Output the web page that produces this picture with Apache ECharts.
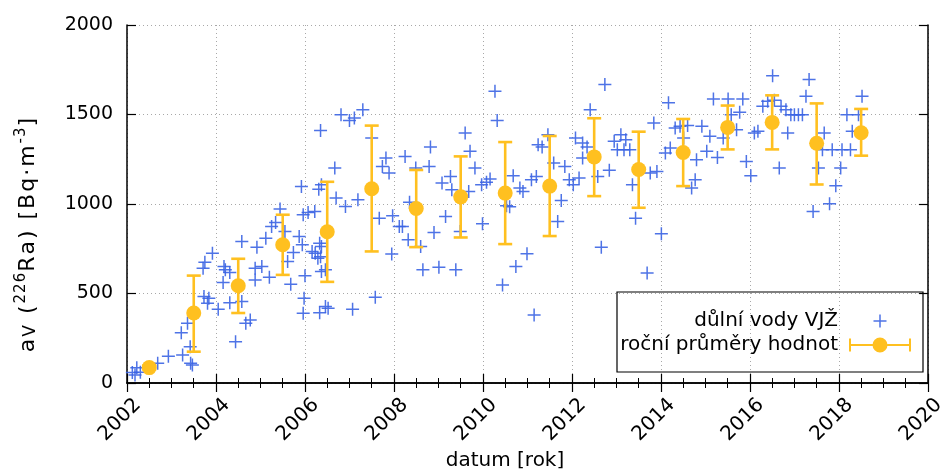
<!DOCTYPE html>
<html><head><meta charset="utf-8">
<script src="https://cdn.jsdelivr.net/npm/echarts@6/dist/echarts.min.js"></script>
<style>html,body{margin:0;padding:0;background:#fff}#c{width:948px;height:472px}</style>
</head><body><div id="c"></div>
<script>
// ---- data ----
const sampleYears = [
 2002.12,2002.22,2002.30,2002.18,2002.69,2002.93,2003.25,2003.42,2003.43,2003.47,
 2003.22,2003.36,2003.73,2003.84,2003.81,2003.71,2003.75,2003.92,2004.05,2004.18,
 2004.21,2004.31,2004.16,2004.31,2004.44,2004.58,2004.58,2004.67,2004.77,2004.92,
 2004.88,2005.03,2004.88,2005.20,2005.12,2005.25,2005.34,2005.44,2005.55,2005.61,
 2005.68,2005.74,2005.87,2005.94,2005.92,2006.00,2005.98,2005.96,2005.96,2006.07,
 2006.22,2006.35,2006.31,2006.37,2006.16,2006.23,2006.33,2006.37,2006.29,2006.35,
 2006.37,2006.46,2006.33,2006.46,2006.52,2006.67,2006.70,2006.91,2007.07,2006.81,
 2007.00,2007.11,2007.19,2007.30,2007.50,2007.82,2007.74,2007.89,2007.67,2007.97,
 2008.12,2008.19,2008.32,2008.60,2007.95,2008.25,2008.49,2008.82,2008.79,2008.90,
 2008.65,2009.01,2009.39,2009.16,2009.08,2009.27,2009.30,2009.60,2009.71,2007.58,
 2008.35,2009.49,2010.27,2010.32,2009.82,2009.97,2010.08,2010.16,2009.68,2009.99,
 2010.53,2010.60,2010.68,2010.83,2010.90,2011.09,2011.20,2010.99,2010.74,2010.44,
 2011.15,2011.24,2011.33,2011.46,2011.59,2011.84,2011.76,2011.68,2011.94,2012.03,
 2012.16,2012.08,2012.24,2012.74,2012.41,2012.24,2012.34,2012.58,2012.84,2012.66,
 2013.10,2012.95,2013.21,2013.02,2013.17,2013.30,2013.36,2013.43,2013.69,2013.76,
 2013.91,2013.84,2014.17,2014.01,2014.10,2014.21,2014.32,2014.43,2014.60,2014.51,
 2014.77,2014.69,2014.80,2015.03,2014.92,2015.10,2015.27,2015.18,2015.51,2015.84,
 2015.58,2015.77,2015.40,2015.70,2015.92,2016.02,2016.10,2016.18,2016.29,2016.40,
 2016.55,2016.51,2016.70,2016.81,2016.85,2016.66,2016.92,2017.00,2017.09,2017.18,
 2017.26,2017.33,2017.42,2017.67,2017.63,2017.85,2018.07,2018.26,2017.54,2018.04,
 2017.93,2017.79,2018.18,2018.44,2018.52,2018.30
];
const sampleValues = [
 58,85,60,45,110,150,157,203,110,100,
 281,334,483,474,446,641,675,725,412,651,
 632,617,561,449,231,791,455,334,352,759,
 641,651,576,591,809,874,897,972,846,679,
 552,729,818,772,1098,599,474,390,940,953,
 958,1410,1083,1108,734,725,781,762,697,706,
 623,632,393,427,418,1201,1033,986,412,1499,
 1467,1481,1024,1527,1369,1257,1210,1173,921,934,
 874,874,800,762,720,1266,1201,1318,1210,841,
 632,647,632,930,1117,1154,1080,1397,1294,479,
 1010,846,1630,1467,1201,1108,1121,1139,1070,890,
 990,985,1158,1089,1070,1136,1154,722,651,548,
 380,1331,1318,1387,1229,1210,1020,902,1136,1108,
 1145,1369,1257,1667,1527,1341,1318,1154,1188,759,
 1387,1350,1359,1303,1303,1303,1108,921,614,1173,
 1182,1453,1565,834,1285,1313,1425,1434,1438,1369,
 1136,1089,1247,1294,1434,1378,1260,1587,1587,1587,
 1499,1512,1369,1415,1238,1158,1397,1406,1546,1574,
 1579,1717,1546,1527,1397,1201,1499,1499,1499,1499,
 1602,1695,958,1397,1303,1303,1303,1303,1201,1201,
 1102,1001,1499,1499,1602,1406
];
const meanYears  = [2002.5,2003.5,2004.5,2005.5,2006.5,2007.5,2008.5,2009.5,2010.5,2011.5,2012.5,2013.5,2014.5,2015.5,2016.5,2017.5,2018.5];
const meanValues = [86,391,543,772,845,1085,975,1040,1061,1100,1263,1193,1288,1428,1456,1339,1398];
const meanLow    = [76,175,391,604,565,735,759,813,776,821,1044,979,1100,1305,1305,1109,1270];
const meanHigh   = [98,600,694,940,1124,1438,1190,1266,1346,1380,1479,1404,1475,1550,1607,1562,1531];
const xRange = [2002, 2020], xStep = 2;
const yRange = [0, 2000], yStep = 500;
const seriesNames = ['důlní vody VJŽ', 'roční průměry hodnot'];
const xTitle = 'datum [rok]';
// y title pieces: [style, text]  ->  a_V (^226 Ra) [Bq·m^-3]
const yTitleParts = [['n', 'a'], ['sub', 'V'], ['n', ' ('], ['sup', '226'], ['n', 'Ra) [Bq·m'], ['sup', '-3'], ['n', ']']];

// ---- styling ----
const FONT = 'DejaVu Sans';
const BLUE = '#3b64e3';
const GOLD = '#ffc020';
const PLUS = 'path://M5.75,0H7.25V5.75H13V7.25H7.25V13H5.75V7.25H0V5.75H5.75Z';
const PLUS_LEG = 'path://M0,0h0.01v0.01h-0.01z M62,14h-0.01v-0.01h0.01z M30.25,0.5H31.75V6.25H37.5V7.75H31.75V13.5H30.25V7.75H24.5V6.25H30.25Z';
const ERR_LEG = 'path://M0,1.5H2V14.5H0Z M60,1.5H62V14.5H60Z M2,7H23.6V9H2Z M38.4,7H60V9H38.4Z M23.5,8A7.5,7.5 0 1,1 38.5,8A7.5,7.5 0 1,1 23.5,8Z';

// y title as rich-text tokens (one per glyph, slightly tracked)
const yTitleRich = yTitleParts.map(([s, t]) =>
  Array.from(t).map(ch => '{' + s + '|' + ch + '}').join('')).join('');
const SP = 2;

const chart = echarts.init(document.getElementById('c'), null, {renderer: 'canvas'});
const gridLine = {show: true, lineStyle: {color: '#a8a8a8', width: 1, type: [1, 3]}};
const axisLine = {show: true, lineStyle: {color: '#000', width: 1.5}};
const tick = {show: true, inside: true, length: 9, lineStyle: {color: '#000', width: 1.2}};
const minor = {show: true, splitNumber: 4, length: 5, lineStyle: {color: '#000', width: 1}};

chart.setOption({
  animation: false,
  backgroundColor: '#fff',
  textStyle: {fontFamily: FONT},
  grid: {left: 127, right: 13, top: 25, bottom: 89, containLabel: false},
  xAxis: [
    {type: 'value', min: xRange[0], max: xRange[1], interval: xStep, position: 'bottom',
     axisLine, axisTick: tick, minorTick: minor, splitLine: gridLine,
     axisLabel: {rotate: 45, margin: 44, align: 'center', verticalAlign: 'bottom', fontSize: 20, color: '#000', fontFamily: FONT,
                 formatter: v => String(v)}},
    {type: 'value', min: xRange[0], max: xRange[1], interval: xStep, position: 'top',
     axisLine, axisTick: tick, minorTick: minor, splitLine: {show: false}, axisLabel: {show: false}}
  ],
  yAxis: [
    {type: 'value', min: yRange[0], max: yRange[1], interval: yStep, position: 'left',
     axisLine, axisTick: tick, splitLine: gridLine,
     axisLabel: {margin: 14, fontSize: 19, color: '#000', fontFamily: FONT, formatter: v => String(v)}},
    {type: 'value', min: yRange[0], max: yRange[1], interval: yStep, position: 'right',
     axisLine, axisTick: tick, splitLine: {show: false}, axisLabel: {show: false}}
  ],
  legend: [
    {data: [{name: seriesNames[0], icon: PLUS_LEG}], right: 37, top: 311, padding: 0, align: 'right',
     itemWidth: 62, itemHeight: 14, selectedMode: false,
     textStyle: {fontSize: 20, color: '#000', fontFamily: FONT, padding: [0, 6, 0, 0]}},
    {data: [{name: seriesNames[1], icon: ERR_LEG}], right: 37, top: 335, padding: 0, align: 'right',
     itemWidth: 62, itemHeight: 16, selectedMode: false,
     textStyle: {fontSize: 20, color: '#000', fontFamily: FONT, padding: [0, 6, 0, 0]}}
  ],
  graphic: [
    {type: 'rect', shape: {x: 617, y: 292, width: 306, height: 80}, z: 5,
     style: {fill: 'none', stroke: '#000', lineWidth: 1.2}},
    {type: 'text', x: 505, y: 461, z: 5,
     style: {text: xTitle, font: '20px "DejaVu Sans"', fill: '#000', align: 'center', verticalAlign: 'middle'}},
    {type: 'text', x: 28, y: 234, rotation: Math.PI / 2, z: 5,
     style: {
       text: yTitleRich,
       align: 'center', verticalAlign: 'middle', fill: '#000',
       rich: {
         n: {fontSize: 22, fontFamily: FONT, lineHeight: 28, verticalAlign: 'middle', padding: [0, SP, 0, 0], fill: '#000'},
         sub: {fontSize: 17, fontFamily: FONT, lineHeight: 28, verticalAlign: 'bottom', padding: [0, SP, 3, 0], fill: '#000'},
         sup: {fontSize: 15, fontFamily: FONT, lineHeight: 28, verticalAlign: 'top', padding: [0, SP * 0.5, 0, 0], fill: '#000'}
       }
     }}
  ],
  series: [
    {name: seriesNames[0], type: 'scatter', xAxisIndex: 0, yAxisIndex: 0,
     symbol: PLUS, symbolSize: 13, z: 2,
     itemStyle: {color: BLUE, opacity: 0.9},
     data: sampleYears.map((y, i) => [y, sampleValues[i]])},
    {name: seriesNames[1], type: 'custom', xAxisIndex: 0, yAxisIndex: 0, z: 3,
     itemStyle: {color: GOLD},
     encode: {x: 0, y: [1, 2]},
     data: meanYears.map((y, i) => [y, meanLow[i], meanHigh[i]]),
     renderItem: function (params, api) {
       const x = api.value(0);
       const pLo = api.coord([x, api.value(1)]);
       const pHi = api.coord([x, api.value(2)]);
       const w = 7;
       const style = {stroke: GOLD, lineWidth: 2.6, fill: null};
       return {type: 'group', children: [
         {type: 'line', shape: {x1: pLo[0], y1: pLo[1], x2: pHi[0], y2: pHi[1]}, style},
         {type: 'line', shape: {x1: pLo[0] - w, y1: pLo[1], x2: pLo[0] + w, y2: pLo[1]}, style},
         {type: 'line', shape: {x1: pHi[0] - w, y1: pHi[1], x2: pHi[0] + w, y2: pHi[1]}, style}
       ]};
     }},
    {name: seriesNames[1], type: 'scatter', xAxisIndex: 0, yAxisIndex: 0, z: 4,
     symbol: 'circle', symbolSize: 15, itemStyle: {color: GOLD, opacity: 1},
     data: meanYears.map((y, i) => [y, meanValues[i]])}
  ]
});
</script></body></html>
